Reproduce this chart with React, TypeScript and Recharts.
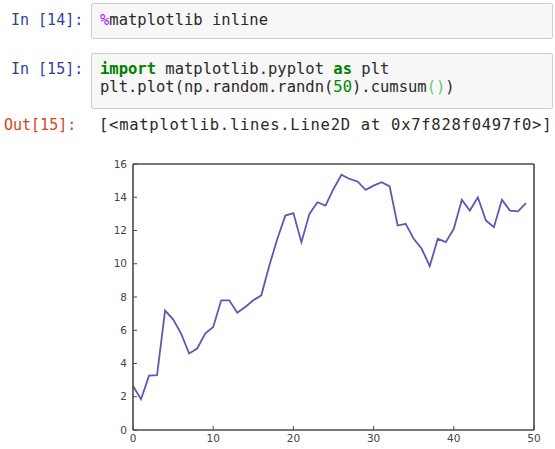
import React from "react";
import { LineChart, Line, XAxis, YAxis } from "recharts";

const steps: number[] = Array.from({ length: 50 }, (_, i) => i);
const cumsumValues: number[] = [
  2.65, 1.85, 3.27, 3.3, 7.18, 6.66, 5.8, 4.6, 4.9, 5.8,
  6.2, 7.8, 7.8, 7.05, 7.4, 7.8, 8.1, 9.9, 11.5, 12.9,
  13.05, 11.3, 13.0, 13.7, 13.5, 14.5, 15.35, 15.1, 14.95, 14.45,
  14.7, 14.9, 14.65, 12.3, 12.4, 11.5, 10.9, 9.85, 11.5, 11.3,
  12.1, 13.85, 13.2, 14.0, 12.6, 12.2, 13.85, 13.2, 13.15, 13.65,
];
const xTicks: number[] = [0, 10, 20, 30, 40, 50];
const yTicks: number[] = [0, 2, 4, 6, 8, 10, 12, 14, 16];

const data = steps.map((i) => ({ i, v: cumsumValues[i] }));

const mono = '"DejaVu Sans Mono", "Liberation Mono", monospace';
const spine = "#4a4a4a";
const tickFont = { fontSize: 10.5, fill: "#444", fontFamily: '"DejaVu Sans", sans-serif' };

const abs = (left: number, top: number, extra: React.CSSProperties = {}): React.CSSProperties => ({
  position: "absolute",
  left,
  top,
  whiteSpace: "pre",
  ...extra,
});

export default function App() {
  return (
    <div
      style={{
        position: "absolute",
        left: 0,
        top: 0,
        width: 555,
        height: 449,
        overflow: "hidden",
        background: "#fff",
        fontFamily: mono,
      }}
    >
      {/* Cell 14 */}
      <div style={abs(11, 11, { fontSize: 15, lineHeight: "18px", color: "#303F9F" })}>In [14]:</div>
      <div
        style={abs(91, 3, {
          width: 460,
          height: 34,
          background: "#f7f7f7",
          border: "1px solid #cfcfcf",
          borderRadius: 2,
        })}
      />
      <div style={abs(100, 11, { fontSize: 15.5, lineHeight: "18px", color: "#2a2a2a" })}>
        <span style={{ color: "#AA22FF" }}>%</span>matplotlib inline
      </div>

      {/* Cell 15 */}
      <div style={abs(11, 60, { fontSize: 15, lineHeight: "18px", color: "#303F9F" })}>In [15]:</div>
      <div
        style={abs(91, 53, {
          width: 460,
          height: 54,
          background: "#f7f7f7",
          border: "1px solid #cfcfcf",
          borderRadius: 2,
        })}
      />
      <div style={abs(100, 60, { fontSize: 15.5, lineHeight: "18px", color: "#2a2a2a" })}>
        <span style={{ color: "#008000", fontWeight: "bold" }}>import</span> matplotlib.pyplot{" "}
        <span style={{ color: "#008000", fontWeight: "bold" }}>as</span> plt
        {"\n"}plt.plot(np.random.randn(<span style={{ color: "#008800" }}>50</span>).cumsum
        <span style={{ color: "#66cc66" }}>()</span>)
      </div>

      {/* Out 15 */}
      <div style={abs(4, 116, { fontSize: 15, lineHeight: "18px", color: "#D84315" })}>Out[15]:</div>
      <div style={abs(99, 116, { fontSize: 15.5, lineHeight: "18px", color: "#2a2a2a", letterSpacing: "0.74px" })}>
        {"[<matplotlib.lines.Line2D at 0x7f828f0497f0>]"}
      </div>

      {/* Chart */}
      <div style={abs(90, 150)}>
        <LineChart
          width={465}
          height={299}
          data={data}
          margin={{ top: 14, right: 21, bottom: 0, left: 0 }}
        >
          <XAxis
            dataKey="i"
            type="number"
            domain={[0, 50]}
            ticks={xTicks}
            height={19}
            tickSize={-4}
            tickMargin={9}
            axisLine={{ stroke: spine, strokeWidth: 1.6 }}
            tickLine={{ stroke: spine }}
            tick={tickFont}
            interval={0}
          />
          <XAxis
            xAxisId="top"
            orientation="top"
            type="number"
            domain={[0, 50]}
            ticks={xTicks}
            mirror
            tick={false}
            tickSize={4}
            axisLine={{ stroke: spine, strokeWidth: 1.6 }}
            tickLine={{ stroke: spine }}
          />
          <YAxis
            type="number"
            domain={[0, 16]}
            ticks={yTicks}
            width={43}
            tickSize={-4}
            tickMargin={10}
            axisLine={{ stroke: spine, strokeWidth: 1.6 }}
            tickLine={{ stroke: spine }}
            tick={tickFont}
            interval={0}
          />
          <YAxis
            yAxisId="right"
            orientation="right"
            type="number"
            domain={[0, 16]}
            ticks={yTicks}
            mirror
            tick={false}
            tickSize={4}
            axisLine={{ stroke: spine, strokeWidth: 1.6 }}
            tickLine={{ stroke: spine }}
          />
          <Line
            type="linear"
            dataKey="v"
            stroke="#5a5ab4"
            strokeWidth={1.8}
            dot={false}
            isAnimationActive={false}
          />
        </LineChart>
      </div>
    </div>
  );
}
